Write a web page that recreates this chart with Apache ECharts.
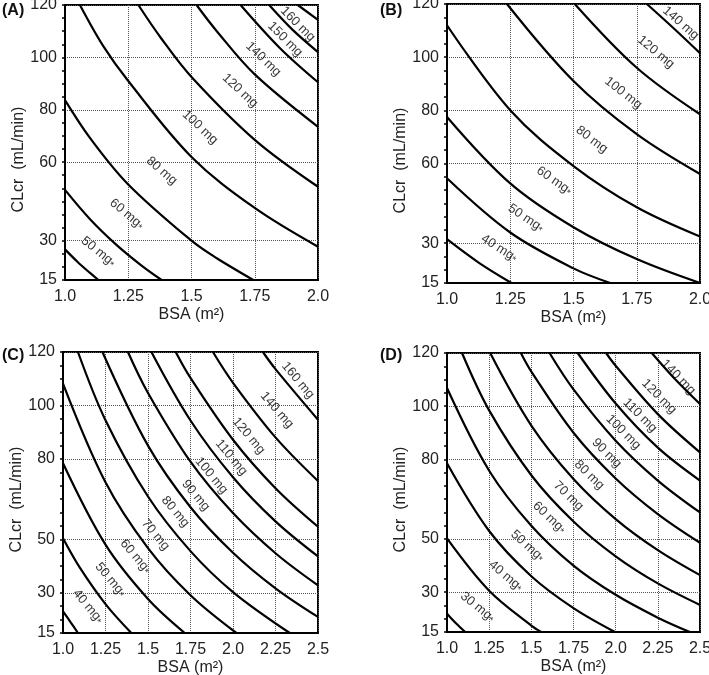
<!DOCTYPE html>
<html>
<head>
<meta charset="utf-8">
<script src="https://cdn.jsdelivr.net/npm/echarts@6/dist/echarts.min.js"></script>
<style>
    html, body { margin: 0; padding: 0; background: #fff; }
    #chart { width: 709px; height: 675px; }
</style>
</head>
<body>
<div id="chart"></div>
<script>
// 横轴 BSA 刻度
var bsaTicksAB = [1.0, 1.25, 1.5, 1.75, 2.0];
var bsaTicksCD = [1.0, 1.25, 1.5, 1.75, 2.0, 2.25, 2.5];
// 纵轴 CLcr 刻度
var clcrTicksAB = [15, 30, 60, 80, 100, 120];
var clcrTicksCD = [15, 30, 50, 80, 100, 120];

// (A) 各剂量等值线  [BSA, CLcr]
var dosesA = [50, 60, 80, 100, 120, 140, 150, 160, 170];
var starredA = [50, 60];
var linesA = [
    [[1.0, 26.7], [1.05, 21.9], [1.1, 17.6], [1.132, 15]],
    [[1.0, 49.4], [1.1, 38.1], [1.2, 28.7], [1.3, 20.7], [1.382, 15]],
    [[1.0, 83.7], [1.1, 69.1], [1.25, 51.5], [1.5, 30], [1.6, 23.3], [1.744, 15]],
    [[1.059, 120], [1.15, 104.5], [1.25, 91], [1.5, 62], [1.75, 42.5], [2.0, 27.7]],
    [[1.29, 120], [1.38, 107.3], [1.5, 92.5], [1.75, 68.5], [2.0, 50.6]],
    [[1.52, 120], [1.6, 110], [1.75, 93.5], [2.0, 73.5]],
    [[1.694, 120], [1.85, 103.5], [2.0, 90.5]],
    [[1.807, 120], [1.9, 110.5], [2.0, 102]],
    [[1.92, 120], [2.0, 114.3]]
];

// (B)
var dosesB = [40, 50, 60, 80, 100, 120, 140];
var starredB = [40, 50, 60];
var linesB = [
    [[1.0, 31.5], [1.125, 22.7], [1.255, 15]],
    [[1.0, 54.4], [1.25, 34], [1.5, 20.5], [1.645, 15]],
    [[1.0, 77.5], [1.25, 52.5], [1.5, 36], [1.75, 24], [2.0, 15]],
    [[1.0, 112], [1.25, 80], [1.5, 59], [1.75, 43.5], [2.0, 32.5]],
    [[1.237, 120], [1.5, 91], [1.75, 71], [2.0, 56]],
    [[1.505, 120], [1.75, 96], [2.0, 78.5]],
    [[1.79, 120], [1.9, 110.5], [2.0, 101.5]]
];

// (C)
var dosesC = [40, 50, 60, 70, 80, 90, 100, 110, 120, 140, 160];
var starredC = [40, 50, 60];
var linesC = [
    [[1.0, 23.1], [1.045, 19], [1.088, 15]],
    [[1.0, 50.4], [1.1, 39.3], [1.25, 25.8], [1.402, 15]],
    [[1.0, 78.4], [1.25, 48], [1.5, 27.7], [1.716, 15]],
    [[1.0, 108.2], [1.25, 71.3], [1.5, 46.7], [1.75, 29.1], [2.02, 15]],
    [[1.088, 120], [1.25, 94.5], [1.5, 66], [1.75, 45.6], [2.0, 30.3], [2.334, 15]],
    [[1.232, 120], [1.5, 85], [1.75, 62], [2.0, 45], [2.25, 31.7], [2.5, 21]],
    [[1.382, 120], [1.5, 104.7], [1.75, 79], [2.0, 59.8], [2.25, 44.8], [2.5, 32.8]],
    [[1.52, 120], [1.75, 94.4], [2.0, 73.2], [2.25, 56.7], [2.5, 43.6]],
    [[1.663, 120], [1.75, 110.3], [2.0, 87.2], [2.25, 69.1], [2.5, 54.7]],
    [[1.882, 120], [2.0, 108.5], [2.25, 88.1], [2.5, 71.8]],
    [[2.176, 120], [2.25, 113.6], [2.5, 94.7]]
];

// (D)
var dosesD = [30, 40, 50, 60, 70, 80, 90, 100, 110, 120, 140];
var starredD = [30, 40, 50, 60];
var linesD = [
    [[1.0, 21.9], [1.05, 18.5], [1.108, 15]],
    [[1.0, 50.2], [1.25, 30.5], [1.5, 17.4], [1.558, 15]],
    [[1.0, 78.5], [1.25, 53], [1.5, 36], [1.75, 24], [1.996, 15]],
    [[1.0, 106.8], [1.25, 75.7], [1.5, 55], [1.75, 40], [2.0, 29], [2.25, 20.4], [2.44, 15]],
    [[1.089, 120], [1.25, 98.4], [1.5, 74], [1.75, 56.6], [2.0, 43.5], [2.25, 33.3], [2.5, 25.2]],
    [[1.256, 120], [1.5, 92.7], [1.75, 72.6], [2.0, 57.5], [2.25, 45.8], [2.5, 36.4]],
    [[1.438, 120], [1.5, 113], [1.75, 90], [2.0, 72.8], [2.25, 59.4], [2.5, 48.6]],
    [[1.608, 120], [1.75, 106.3], [2.0, 87], [2.25, 72], [2.5, 60]],
    [[1.775, 120], [2.0, 101], [2.25, 84.4], [2.5, 72]],
    [[1.943, 120], [2.0, 115.2], [2.25, 97], [2.5, 82.6]],
    [[2.214, 120], [2.35, 110.3], [2.5, 100.8]]
];

// 线上文字的位置和角度 (与上面剂量一一对应, null 表示不标)
var labelPosA = [[1.132, 25.8], [1.244, 40.2], [1.382, 56.7], [1.534, 73.3], [1.692, 87.3], [1.784, 99.3], [1.87, 106.9], [1.92, 112.7], null];
var labelRotA = [-39, -40, -41, -43, -43, -44, -45, -45, 0];
var labelPosB = [[1.206, 28.1], [1.312, 39.4], [1.424, 53.5], [1.572, 69], [1.697, 86.5], [1.826, 101.9], [1.924, 112.8]];
var labelRotB = [-32, -34, -35, -37, -38, -40, -41];
var labelPosC = [[1.147, 24.9], [1.279, 34.9], [1.426, 43.6], [1.544, 51.7], [1.661, 60.3], [1.781, 66.4], [1.873, 73.8], [1.99, 80.6], [2.092, 88.7], [2.259, 98.3], [2.382, 109.4]];
var labelRotC = [-50, -50, -50, -50, -50, -50, -50, -50, -50, -49, -50];
var labelPosD = [[1.181, 24.4], [1.349, 36.1], [1.477, 47.4], [1.606, 58.1], [1.72, 66.2], [1.843, 74.1], [1.947, 82.3], [2.046, 90.2], [2.144, 96.5], [2.257, 103.6], [2.371, 110.9]];
var labelRotD = [-39, -40, -42, -43, -44, -44, -45, -45, -45, -45, -46];

var FONT = 'Arial, "Liberation Sans", sans-serif';

// 四个子图的摆放
var panels = [
    { tag: '(A)', left: 65, top: 5, width: 253, height: 275, xMax: 2.0, yTicks: clcrTicksAB, yShift: 34,
      doses: dosesA, lines: linesA, starred: starredA, pos: labelPosA, rot: labelRotA, tagX: 2, tagY: 3 },
    { tag: '(B)', left: 447, top: 4, width: 253, height: 279, xMax: 2.0, yTicks: clcrTicksAB, yShift: 34,
      doses: dosesB, lines: linesB, starred: starredB, pos: labelPosB, rot: labelRotB, tagX: 380, tagY: 3 },
    { tag: '(C)', left: 63, top: 352, width: 255, height: 281, xMax: 2.5, yTicks: clcrTicksCD, yShift: 14,
      doses: dosesC, lines: linesC, starred: starredC, pos: labelPosC, rot: labelRotC, tagX: 2, tagY: 348 },
    { tag: '(D)', left: 447, top: 353, width: 253, height: 279, xMax: 2.5, yTicks: clcrTicksCD, yShift: 14,
      doses: dosesD, lines: linesD, starred: starredD, pos: labelPosD, rot: labelRotD, tagX: 380, tagY: 348 }
];

function bsaFormat(v) {
    return (Math.round(v * 100) % 10 === 0) ? v.toFixed(1) : v.toFixed(2);
}

function chartRender() {
    var chart = echarts.init(document.getElementById('chart'), null, { renderer: 'canvas' });
    var option = {
        animation: false,
        backgroundColor: '#fff',
        grid: [], xAxis: [], yAxis: [], series: [], graphic: []
    };

    panels.forEach(function (p, i) {
        option.grid.push({
            left: p.left, top: p.top, width: p.width, height: p.height,
            show: true, borderColor: '#000', borderWidth: 2,
            outerBoundsMode: 'none'
        });

        option.xAxis.push({
            gridIndex: i, type: 'value', min: 1, max: p.xMax, interval: 0.25,
            name: 'BSA (m²)', nameLocation: 'middle', nameGap: 27,
            nameTextStyle: { fontFamily: FONT, fontSize: 16, color: '#222' },
            axisLine: { show: true, lineStyle: { color: '#000', width: 2 } },
            axisTick: { show: false },
            axisLabel: { margin: 9, fontFamily: FONT, fontSize: 16, color: '#222', formatter: bsaFormat },
            splitLine: { show: true, lineStyle: { type: 'dotted', color: '#555', width: 1 } }
        });

        // 主纵轴: 标签和虚线网格
        option.yAxis.push({
            gridIndex: i, type: 'value', min: 15, max: 120, position: 'left',
            name: 'CLcr  (mL/min)', nameLocation: 'middle', nameGap: 37,
            nameTextStyle: { fontFamily: FONT, fontSize: 16, color: '#222', padding: [0, p.yShift, 0, 0] },
            axisLine: { show: true, lineStyle: { color: '#000', width: 2 } },
            axisTick: { show: false, customValues: p.yTicks },
            axisLabel: { margin: 8, fontFamily: FONT, fontSize: 16, color: '#222', customValues: p.yTicks },
            splitLine: { show: true, lineStyle: { type: 'dotted', color: '#555', width: 1 } }
        });
        // 副纵轴: 每 5 一个小刻度
        option.yAxis.push({
            gridIndex: i, type: 'value', min: 15, max: 120, interval: 5, position: 'left',
            axisLine: { show: false },
            axisTick: { show: true, length: 3, lineStyle: { color: '#000', width: 1.5 } },
            axisLabel: { show: false },
            splitLine: { show: false }
        });

        // 等剂量线
        p.lines.forEach(function (pts, k) {
            option.series.push({
                name: p.tag + ' ' + p.doses[k] + ' mg',
                type: 'line', xAxisIndex: i, yAxisIndex: 2 * i,
                data: pts, showSymbol: false, smooth: 0.35,
                lineStyle: { color: '#000', width: 2.2 },
                silent: true, z: 3
            });
        });

        // 线旁文字
        var labelData = [];
        p.doses.forEach(function (d, k) {
            if (!p.pos[k]) return;
            var txt = p.starred.indexOf(d) >= 0 ? '{n|' + d + ' mg}{s|*}' : '{n|' + d + ' mg}';
            labelData.push({
                value: p.pos[k],
                label: { rotate: p.rot[k], formatter: txt }
            });
        });
        option.series.push({
            type: 'scatter', xAxisIndex: i, yAxisIndex: 2 * i,
            symbolSize: 0, silent: true, z: 5,
            itemStyle: { color: '#000' },
            data: labelData,
            label: {
                show: true, position: 'inside', color: '#000',
                textBorderWidth: 0,
                rich: {
                    n: { fontFamily: FONT, fontSize: 13, color: '#000', textBorderWidth: 0 },
                    s: { fontFamily: FONT, fontSize: 10, color: '#000', textBorderWidth: 0, padding: [5, 0, 0, 0] }
                }
            }
        });

        // 子图编号
        option.graphic.push({
            type: 'text', left: p.tagX, top: p.tagY,
            style: { text: p.tag, font: 'bold 16px ' + FONT, fill: '#111' }
        });
    });

    chart.setOption(option);
}

setTimeout(chartRender, 50);
</script>
</body>
</html>
